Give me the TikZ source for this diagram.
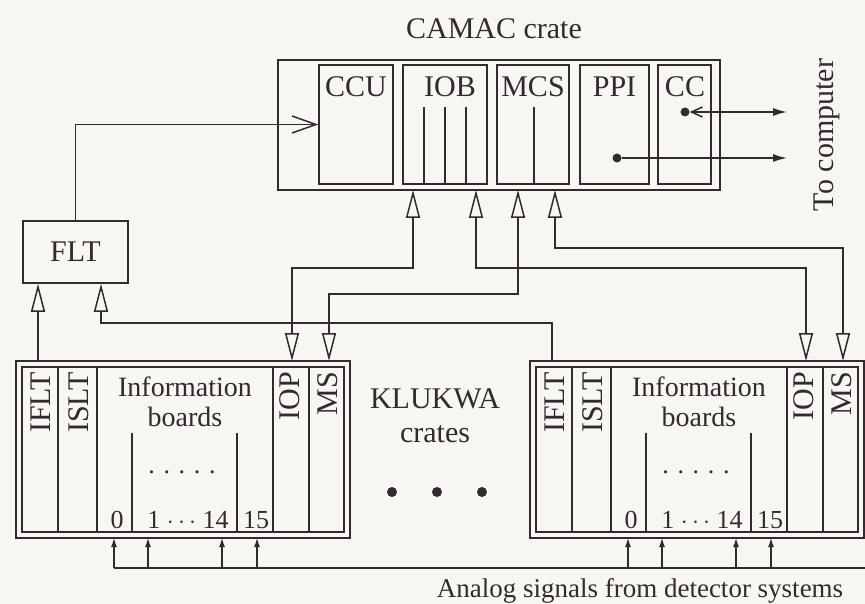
\documentclass[tikz,border=0pt]{standalone}
\usepackage{fontspec}
\setmainfont{Liberation Serif}
\usetikzlibrary{arrows.meta}

\definecolor{ink}{RGB}{50,42,48}
\definecolor{paper}{RGB}{248,246,241}

\begin{document}
\begin{tikzpicture}[x=1pt,y=-1pt]

	\tikzset{tri/.tip={Triangle[open,length=28pt,width=14pt]}}
	\tikzset{wire/.style={ink, line width=1.5pt}}
	\tikzset{bothtri/.style={tri-tri, ink, line width=1.5pt}}
	\tikzset{uptri/.style={-tri, ink, line width=1.5pt}}
	\tikzset{sig/.style={-{Latex[length=9pt,width=6pt]}, ink, line width=1.2pt}}
	\tikzset{txt/.style={ink, inner sep=0pt, font=\fontsize{30}{34}\selectfont}}
	\tikzset{small/.style={ink, inner sep=0pt, font=\fontsize{26}{30}\selectfont}}
	\tikzset{slot/.style={txt, rotate=90, anchor=east}}
	\tikzset{module/.style={draw=ink, line width=1.5pt, minimum height=119pt, inner sep=0pt}}
	\tikzset{crate/.style={draw=ink, double=paper, double distance=4.5pt, line width=1.4pt,
		minimum width=328pt, minimum height=171pt}}
	\tikzset{dot/.style={circle, fill=ink, inner sep=0pt, minimum size=9pt}}

	% Parameters
	\def\busY{568}   % signal bus
	\def\crTop{361}  % crate top

	\path[use as bounding box, fill=paper] (0,0) rectangle (865,604);

	% CAMAC crate
	\node[draw=ink, line width=1.8pt, minimum width=442pt, minimum height=130pt] (camac) at (499,125) {};
	\node[txt, anchor=base] (camactxt) at (494,39) {CAMAC crate};

	\node[module, minimum width=74pt] (ccu) at (356,124.5) {};
	\node[module, minimum width=84pt] (iob) at (445,124.5) {};
	\node[module, minimum width=72pt] (mcs) at (533,124.5) {};
	\node[module, minimum width=69pt] (ppi) at (614.5,124.5) {};
	\node[module, minimum width=53pt] (cc) at (684.5,124.5) {};

	\node[txt, anchor=base] (ccutxt) at (356,97) {CCU};
	\node[txt, anchor=base] (iobtxt) at (450,97) {IOB};
	\node[txt, anchor=base] (mcstxt) at (533,97) {MCS};
	\node[txt, anchor=base] (ppitxt) at (614.5,97) {PPI};
	\node[txt, anchor=base] (cctxt) at (685,97) {CC};

	\draw[wire] ([xshift=-21pt]iob.south) -- ++(0,-78);
	\draw[wire] (iob.south) -- ++(0,-78);
	\draw[wire] ([xshift=21pt]iob.south) -- ++(0,-78);
	\draw[wire] ([xshift=1pt]mcs.south) -- ++(0,-78);

	% to computer
	\node[dot] (ccdot) at (685,112) {};
	\node[dot] (ppidot) at (617,158) {};
	\coordinate (pcA) at (787,112);
	\coordinate (pcB) at (787,158);
	\draw[ink, line width=1.5pt, {Straight Barb[length=11pt,width=10pt]}-{Latex[length=14pt,width=8pt]}] (ccdot) -- (pcA);
	\draw[ink, line width=1.5pt, -{Latex[length=14pt,width=8pt]}] (ppidot) -- (pcB);
	\node[txt, rotate=90, anchor=base] (pctxt) at (833,135) {To computer};

	% FLT
	\node[draw=ink, line width=1.5pt, minimum width=105pt, minimum height=62pt, txt] (flt) at (75.5,252) {FLT};
	\coordinate (fltin) at ([xshift=25.5pt]flt.south);
	\draw[ink, line width=1.5pt, -{Straight Barb[length=24pt,width=17pt]}] (flt.north) |- (ccu.west);

	% KLUKWA crates
	\foreach \x/\n in {16/L,530/R}{
		\node[crate] (crate\n) at (\x+167,449.5) {};
		\foreach \d in {42,81,257,293} \draw[wire] (\x+\d,367) -- (\x+\d,532);
		\foreach \d in {116,221} \draw[wire] (\x+\d,433) -- (\x+\d,532);

		\node[slot] (iflttxt\n) at (\x+25,372) {IFLT};
		\node[slot] (islttxt\n) at (\x+63,372) {ISLT};
		\node[slot] (ioptxt\n) at (\x+274,372) {IOP};
		\node[slot] (mstxt\n) at (\x+312,372) {MS};
		\node[txt, anchor=base, font=\fontsize{28}{30}\selectfont] (info\n) at (\x+169,396) {Information};
		\node[txt, anchor=base, font=\fontsize{28}{30}\selectfont] (brd\n) at (\x+169,426) {boards};
		\node[small, anchor=base] (dots\n) at (\x+166,473) {. . . . .};
		\node[small, anchor=base] (ch0\n) at (\x+101,528) {0};
		\node[small, anchor=base] (ch1\n) at (\x+172,528) {1 $\cdots$ 14};
		\node[small, anchor=base] (ch15\n) at (\x+240,528) {15};

		\coordinate (iflt\n) at (\x+22,\crTop);
		\coordinate (iop\n) at (\x+276,\crTop);
		\coordinate (ms\n) at (\x+313,\crTop);

		\foreach \s in {98,132,206,241} \draw[sig] (\x+\s,\busY) -- (\x+\s,538);
	}

	\node[txt, anchor=base] (klukwa) at (435,408) {KLUKWA};
	\node[txt, anchor=base] (klcrates) at (435,442) {crates};
	\node[dot, minimum size=10pt] (dotA) at (392,492) {};
	\node[dot, minimum size=10pt] (dotB) at (437,492) {};
	\node[dot, minimum size=10pt] (dotC) at (482,492) {};

	% signal bus
	\coordinate (busL) at (114,\busY);
	\coordinate (busR) at (865,\busY);
	\draw[wire] (busL) -- (busR);
	\node[ink, inner sep=0pt, font=\fontsize{27}{30}\selectfont, anchor=base] (analog) at (640,597) {Analog signals from detector systems};

	% FLT inputs
	\draw[uptri] (ifltL) -- (ifltL |- flt.south);
	\draw[uptri] (ifltR) -- ++(0,-38) -| (fltin);

	% CAMAC <-> KLUKWA
	\coordinate (iobA) at (413,190);
	\coordinate (iobB) at (476,190);
	\coordinate (mcsA) at (518,190);
	\coordinate (mcsB) at (555,190);
	\draw[bothtri] (iobA) -- ++(0,78) -| (iopL);
	\draw[bothtri] (mcsA) -- ++(0,104) -| (msL);
	\draw[bothtri] (iobB) -- ++(0,78) -| (iopR);
	\draw[bothtri] (mcsB) -- ++(0,58) -| (msR);

\end{tikzpicture}
\end{document}
